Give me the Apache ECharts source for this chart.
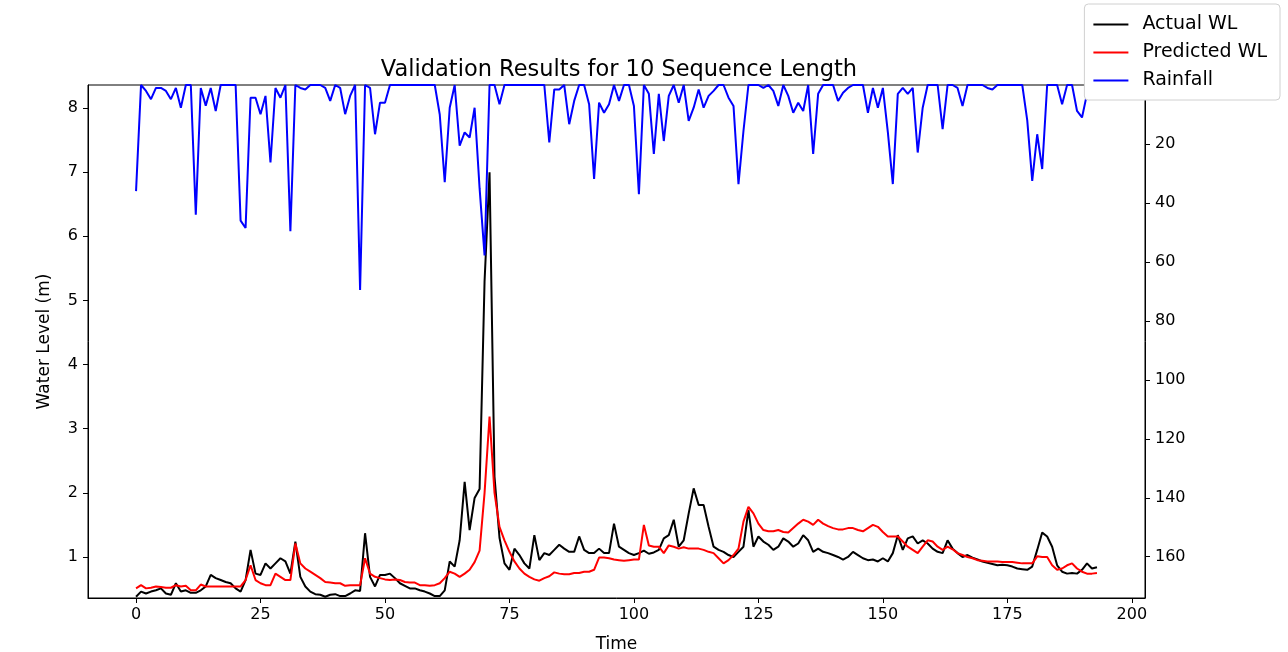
<!DOCTYPE html>
<html>
<head>
<meta charset="utf-8">
<script src="https://cdn.jsdelivr.net/npm/echarts@6/dist/echarts.min.js"></script>
<style>
html,body{margin:0;padding:0;background:#fff;}
#chart{width:1288px;height:652px;}
</style>
</head>
<body>
<div id="chart"></div>
<script>
// Time index 0..193
var timeSteps = [];
for (var t = 0; t < 194; t++) timeSteps.push(t);

var actualWL = [
0.38,0.46,0.43,0.46,0.48,0.51,0.43,0.41,0.59,0.46,
0.48,0.44,0.44,0.48,0.54,0.72,0.67,0.64,0.61,0.59,
0.51,0.46,0.64,1.11,0.74,0.72,0.90,0.82,0.90,0.98,
0.93,0.74,1.24,0.69,0.54,0.46,0.42,0.41,0.38,0.41,
0.42,0.39,0.39,0.43,0.48,0.47,1.37,0.69,0.54,0.72,
0.72,0.74,0.67,0.59,0.55,0.51,0.51,0.48,0.46,0.43,
0.39,0.39,0.48,0.93,0.85,1.26,2.17,1.42,1.92,2.06,
5.30,7.00,2.25,1.30,0.90,0.80,1.13,1.03,0.90,0.82,
1.34,0.95,1.06,1.03,1.11,1.19,1.13,1.08,1.08,1.32,
1.11,1.06,1.06,1.13,1.06,1.06,1.52,1.16,1.11,1.06,
1.03,1.06,1.10,1.05,1.07,1.11,1.29,1.34,1.58,1.16,
1.26,1.68,2.07,1.81,1.81,1.47,1.16,1.11,1.08,1.03,
1.00,1.08,1.16,1.73,1.16,1.32,1.24,1.19,1.11,1.16,
1.29,1.24,1.16,1.21,1.34,1.26,1.08,1.13,1.08,1.06,
1.03,1.00,0.96,1.00,1.08,1.03,0.98,0.95,0.96,0.93,
0.98,0.93,1.06,1.34,1.11,1.29,1.32,1.21,1.26,1.21,
1.13,1.08,1.06,1.26,1.13,1.06,1.00,1.03,0.99,0.96,
0.93,0.91,0.89,0.87,0.88,0.87,0.85,0.82,0.81,0.80,
0.85,1.11,1.38,1.32,1.16,0.87,0.77,0.74,0.75,0.74,
0.80,0.90,0.82,0.84
];

var predictedWL = [
0.51,0.56,0.51,0.52,0.54,0.53,0.52,0.52,0.56,0.54,
0.55,0.48,0.48,0.57,0.54,0.54,0.54,0.54,0.54,0.54,
0.54,0.54,0.64,0.87,0.64,0.59,0.56,0.56,0.74,0.69,
0.64,0.64,1.21,0.90,0.82,0.77,0.72,0.67,0.61,0.60,
0.59,0.59,0.55,0.56,0.56,0.56,0.98,0.74,0.69,0.67,
0.65,0.64,0.65,0.64,0.61,0.60,0.60,0.56,0.56,0.55,
0.56,0.59,0.67,0.77,0.74,0.69,0.74,0.80,0.92,1.10,
2.00,3.19,2.00,1.47,1.26,1.08,0.93,0.82,0.74,0.69,
0.65,0.63,0.67,0.70,0.76,0.74,0.73,0.73,0.75,0.75,
0.77,0.77,0.80,0.99,0.99,0.98,0.96,0.95,0.94,0.95,
0.96,0.96,1.50,1.18,1.16,1.16,1.06,1.18,1.16,1.13,
1.15,1.13,1.13,1.13,1.11,1.08,1.06,0.98,0.90,0.95,
1.03,1.13,1.55,1.78,1.68,1.52,1.42,1.40,1.40,1.42,
1.39,1.38,1.45,1.52,1.58,1.55,1.50,1.58,1.52,1.48,
1.45,1.43,1.43,1.45,1.45,1.42,1.40,1.45,1.50,1.47,
1.39,1.32,1.32,1.32,1.24,1.16,1.11,1.06,1.16,1.26,
1.24,1.16,1.11,1.16,1.12,1.06,1.03,1.00,0.98,0.95,
0.94,0.93,0.93,0.93,0.92,0.92,0.92,0.91,0.90,0.90,
0.90,1.01,1.00,1.00,0.87,0.80,0.82,0.87,0.90,0.82,
0.77,0.74,0.74,0.75
];

var rainfall = [
36,0,2,4.8,1,1,2,4.8,1,7.7,
0,0,44,1,7,1,8.8,0,0,0,
0,46,48.5,4.3,4.3,9.9,3.7,26.3,1,4.3,
0,49.6,0,1,1.5,0,0,0,1,5.4,
0,1,9.9,3.7,0,69.5,0,1,16.7,6,
6,0,0,0,0,0,0,0,0,0,
0,10,33,7.7,0,20.6,16.1,17.8,7.7,35,
57.8,0,0,6.5,0,0,0,0,0,0,
0,0,0,19.5,1.5,1.5,0,13.3,5.4,0,
0,6.5,31.9,6,9.4,6.5,0,5.4,0,0,
7.1,37,0,3,23.4,3,19,3.7,0,6,
0,12.2,7.7,1.5,7.7,3.7,2,0,0,4.3,
7.1,33.6,15.6,0,0,0,1,0,2,7.1,
0,3.7,9.4,6,8.8,0,23.4,3,0,0,
0,5.4,2.6,1,0,0,0,9.4,1,7.7,
1,16,33.6,3,1,3,1,22.9,7.7,0,
0,0,15,0,0,1,7.1,0,0,0,
0,1,1.5,0,0,0,0,0,0,12,
32.5,16.7,28.5,0,0,0,6.5,0,0,8.8,
11,3,0,0
];

var xTicks = [0,25,50,75,100,125,150,175,200];
var wlTicks = [1,2,3,4,5,6,7,8];
var rainTicks = [0,20,40,60,80,100,120,140,160];

function pairs(vals){ return timeSteps.map(function(t,i){ return [t, vals[i]]; }); }

var font = 'DejaVu Sans';
var chart = echarts.init(document.getElementById('chart'), null, {renderer:'canvas'});
var axisTxt = {color:'#000', fontFamily:font, fontSize:16};
chart.setOption({
  animation:false,
  backgroundColor:'#fff',
  title:{
    text:'Validation Results for 10 Sequence Length',
    left:614, top:54, textAlign:'center',
    textStyle:{fontFamily:font, fontSize:22.5, fontWeight:'normal', color:'#000'}
  },
  legend:{
    orient:'vertical', right:8, top:4,
    icon:'rect', itemWidth:35, itemHeight:2, itemGap:9,
    padding:[11,13,10,9],
    backgroundColor:'#fff', borderColor:'#d0d0d0', borderWidth:1, borderRadius:4,
    textStyle:{fontFamily:font, fontSize:19, color:'#000', padding:[0,0,0,9]},
    data:['Actual WL','Predicted WL','Rainfall']
  },
  grid:{left:88, right:143, top:85, bottom:54, show:true, borderColor:'#000', borderWidth:1,
        containLabel:false, outerBoundsMode:'none'},
  xAxis:{
    type:'value', min:-9.65, max:202.65,
    name:'Time', nameLocation:'middle', nameGap:38,
    nameTextStyle:{fontFamily:font, fontSize:17, color:'#000'},
    axisLine:{show:true, onZero:false, lineStyle:{color:'#000', width:1}},
    axisTick:{show:true, length:5, lineStyle:{color:'#000'}, customValues:xTicks},
    axisLabel:Object.assign({margin:9, customValues:xTicks}, axisTxt),
    splitLine:{show:false}
  },
  yAxis:[{
    type:'value', min:0.36, max:8.36, position:'left',
    name:'Water Level (m)', nameLocation:'middle', nameGap:35,
    nameTextStyle:{fontFamily:font, fontSize:17, color:'#000'},
    axisLine:{show:true, onZero:false, lineStyle:{color:'#000', width:1}},
    axisTick:{show:true, length:5, lineStyle:{color:'#000'}, customValues:wlTicks},
    axisLabel:Object.assign({margin:10, customValues:wlTicks}, axisTxt),
    splitLine:{show:false}
  },{
    type:'value', min:0, max:174, inverse:true, position:'right',
    axisLine:{show:true, onZero:false, lineStyle:{color:'#000', width:1}},
    axisTick:{show:true, length:5, lineStyle:{color:'#000'}, customValues:rainTicks},
    axisLabel:Object.assign({margin:10, customValues:rainTicks}, axisTxt),
    splitLine:{show:false}
  }],
  series:[
    {name:'Actual WL', type:'line', yAxisIndex:0, data:pairs(actualWL), symbol:'none', color:'#000000',
     lineStyle:{color:'#000000', width:2}},
    {name:'Predicted WL', type:'line', yAxisIndex:0, data:pairs(predictedWL), symbol:'none', color:'#ff0000',
     lineStyle:{color:'#ff0000', width:2}},
    {name:'Rainfall', type:'line', yAxisIndex:1, data:pairs(rainfall), symbol:'none', color:'#0000ff',
     lineStyle:{color:'#0000ff', width:2}}
  ]
});
</script>
</body>
</html>
